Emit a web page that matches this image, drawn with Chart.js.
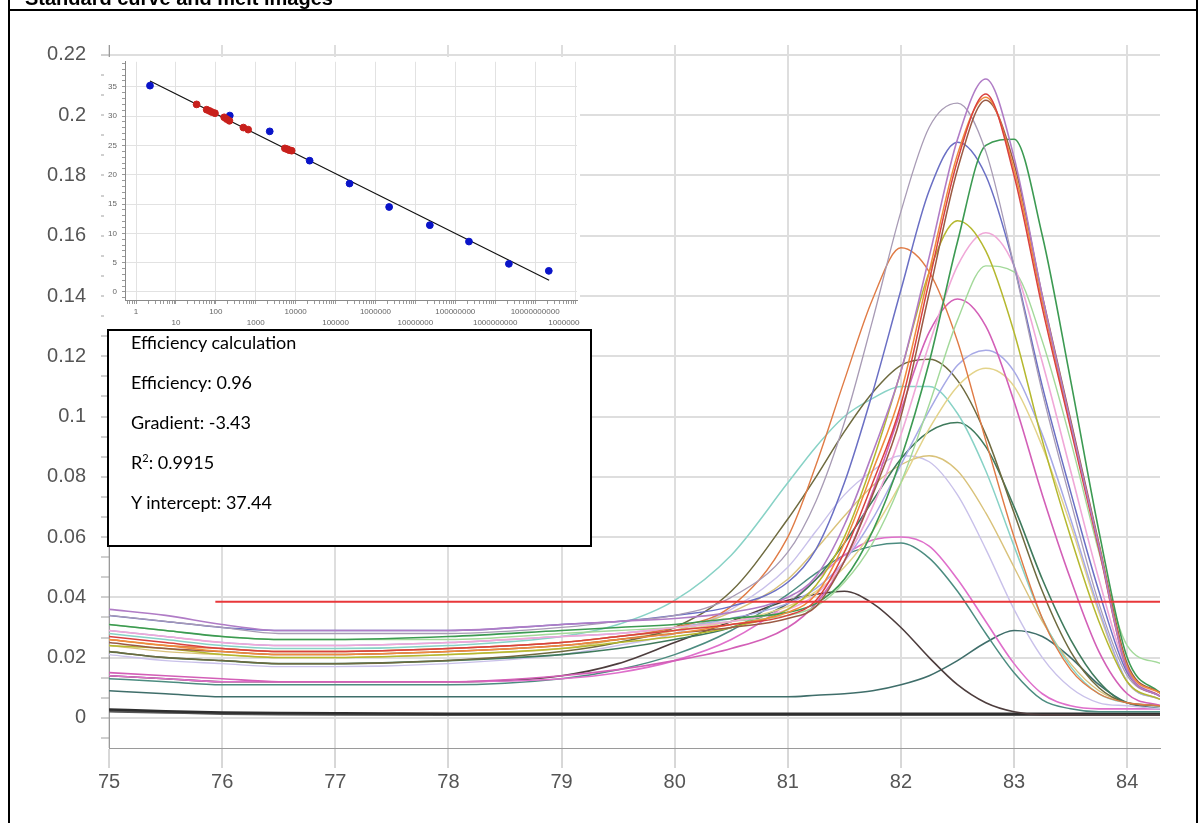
<!DOCTYPE html>
<html>
<head>
<meta charset="utf-8">
<script src="https://cdn.jsdelivr.net/npm/chart.js@4.4.1/dist/chart.umd.min.js"></script>
<style>
  html, body { margin: 0; padding: 0; background: #fff; }
  body { width: 1200px; height: 823px; position: relative; overflow: hidden; font-family: "Liberation Sans", Arial, sans-serif; }
  #meltChart { position: absolute; left: 0; top: 0; }
  #insetWrap { position: absolute; left: 104px; top: 57px; width: 476px; height: 275px; background: #fff; overflow: hidden; }
  #insetWrap canvas { display: block; position: absolute; left: 0; top: -5px; }
  #effBox {
    position: absolute; left: 107px; top: 329px; width: 459px; height: 214px;
    border: 2px solid #000; background: #fff; padding: 0 0 0 22px;
    font: 18px/40px Lato, "Open Sans", sans-serif; color: #000;
  }
  #effBox .lines { position: relative; top: -9px; }
  #effBox sup { font-size: 11px; line-height: 0; vertical-align: 7px; }
  .frame { position: absolute; background: #000; }
  #title { position: absolute; left: 25px; top: -12px; font: bold 20px/20px "Liberation Sans", Arial, sans-serif; color: #000; white-space: nowrap; }
</style>
</head>
<body>
<canvas id="meltChart" width="1200" height="823"></canvas>
<div id="insetWrap"><canvas id="stdCurve" width="506" height="280"></canvas></div>
<div id="effBox">
  <div class="lines">
    <div>Efficiency calculation</div>
    <div>Efficiency: 0.96</div>
    <div>Gradient: -3.43</div>
    <div>R<sup>2</sup>: 0.9915</div>
    <div>Y intercept: 37.44</div>
  </div>
</div>
<div id="title">Standard curve and melt images</div>
<div class="frame" style="left:8px;top:0;width:2px;height:823px"></div>
<div class="frame" style="left:1196px;top:0;width:2px;height:823px"></div>
<div class="frame" style="left:8px;top:9px;width:1190px;height:2px"></div>
<script>
// ---- melt curve data (temperature grid, one array per well) ----
const meltTemps = [75, 75.5, 76, 76.5, 77, 78, 79, 79.5, 80, 80.5, 81, 81.25, 81.5, 81.75, 82, 82.25, 82.5, 82.75, 83, 83.25, 83.5, 83.75, 84, 84.3];

const wellViolet      = [0.036, 0.034, 0.031, 0.029, 0.029, 0.029, 0.031, 0.032, 0.033, 0.035, 0.040, 0.047, 0.064, 0.088, 0.115, 0.153, 0.192, 0.212, 0.186, 0.140, 0.098, 0.057, 0.016, 0.007];
const wellRed         = [0.027, 0.025, 0.023, 0.022, 0.022, 0.023, 0.025, 0.027, 0.029, 0.031, 0.034, 0.039, 0.055, 0.078, 0.104, 0.145, 0.185, 0.207, 0.180, 0.136, 0.096, 0.056, 0.016, 0.007];
const wellOrange      = [0.026, 0.024, 0.022, 0.021, 0.021, 0.022, 0.024, 0.026, 0.028, 0.031, 0.035, 0.041, 0.058, 0.082, 0.108, 0.148, 0.187, 0.206, 0.182, 0.138, 0.097, 0.057, 0.017, 0.008];
const wellBrown       = [0.025, 0.023, 0.022, 0.021, 0.021, 0.022, 0.024, 0.026, 0.028, 0.030, 0.033, 0.037, 0.052, 0.074, 0.100, 0.141, 0.182, 0.205, 0.184, 0.140, 0.099, 0.058, 0.018, 0.008];
const wellLavGray     = [0.034, 0.032, 0.030, 0.028, 0.028, 0.028, 0.030, 0.032, 0.034, 0.040, 0.055, 0.072, 0.098, 0.132, 0.168, 0.196, 0.204, 0.188, 0.150, 0.108, 0.072, 0.038, 0.014, 0.007];
const wellGreen       = [0.031, 0.029, 0.027, 0.026, 0.026, 0.027, 0.029, 0.030, 0.031, 0.033, 0.035, 0.038, 0.046, 0.062, 0.086, 0.118, 0.158, 0.190, 0.192, 0.160, 0.112, 0.062, 0.020, 0.008];
const wellSteel       = [0.034, 0.032, 0.030, 0.029, 0.029, 0.029, 0.031, 0.032, 0.034, 0.037, 0.045, 0.056, 0.078, 0.108, 0.142, 0.175, 0.191, 0.180, 0.150, 0.110, 0.075, 0.042, 0.015, 0.007];
const wellOlive       = [0.024, 0.023, 0.021, 0.020, 0.020, 0.021, 0.023, 0.025, 0.027, 0.030, 0.036, 0.044, 0.060, 0.085, 0.115, 0.148, 0.165, 0.155, 0.128, 0.092, 0.060, 0.032, 0.012, 0.006];
const wellLightPink   = [0.029, 0.027, 0.025, 0.024, 0.024, 0.025, 0.027, 0.028, 0.030, 0.032, 0.036, 0.041, 0.052, 0.070, 0.094, 0.124, 0.150, 0.161, 0.150, 0.118, 0.082, 0.046, 0.016, 0.007];
const wellLightGreen  = [0.031, 0.029, 0.027, 0.026, 0.026, 0.026, 0.028, 0.029, 0.030, 0.032, 0.034, 0.037, 0.045, 0.058, 0.078, 0.104, 0.132, 0.150, 0.148, 0.125, 0.092, 0.055, 0.024, 0.018];
const wellOrangeLeft  = [0.026, 0.024, 0.023, 0.022, 0.022, 0.023, 0.025, 0.027, 0.030, 0.037, 0.060, 0.084, 0.112, 0.139, 0.156, 0.148, 0.125, 0.092, 0.060, 0.033, 0.016, 0.008, 0.005, 0.004];
const wellMagenta     = [0.015, 0.014, 0.013, 0.012, 0.012, 0.012, 0.014, 0.016, 0.019, 0.023, 0.030, 0.038, 0.052, 0.075, 0.102, 0.128, 0.139, 0.130, 0.105, 0.074, 0.046, 0.022, 0.008, 0.004];
const wellLavBlue     = [0.029, 0.027, 0.025, 0.024, 0.024, 0.025, 0.027, 0.028, 0.030, 0.033, 0.038, 0.043, 0.052, 0.066, 0.084, 0.102, 0.117, 0.122, 0.115, 0.094, 0.066, 0.036, 0.012, 0.006];
const wellTan         = [0.026, 0.024, 0.023, 0.022, 0.022, 0.023, 0.025, 0.027, 0.029, 0.032, 0.037, 0.042, 0.050, 0.062, 0.078, 0.096, 0.110, 0.116, 0.110, 0.090, 0.064, 0.035, 0.012, 0.006];
const wellDarkOlive   = [0.022, 0.020, 0.019, 0.018, 0.018, 0.019, 0.022, 0.025, 0.030, 0.042, 0.066, 0.080, 0.095, 0.108, 0.117, 0.119, 0.112, 0.094, 0.068, 0.042, 0.022, 0.010, 0.005, 0.004];
const wellLightTeal   = [0.028, 0.026, 0.024, 0.023, 0.023, 0.024, 0.027, 0.031, 0.039, 0.054, 0.078, 0.090, 0.100, 0.106, 0.110, 0.110, 0.101, 0.082, 0.057, 0.033, 0.017, 0.008, 0.005, 0.004];
const wellDarkGreen   = [0.022, 0.020, 0.019, 0.018, 0.018, 0.019, 0.021, 0.023, 0.026, 0.030, 0.038, 0.046, 0.058, 0.072, 0.086, 0.095, 0.098, 0.090, 0.070, 0.046, 0.026, 0.012, 0.005, 0.004];
const wellKhaki       = [0.024, 0.022, 0.021, 0.020, 0.020, 0.021, 0.023, 0.026, 0.029, 0.035, 0.046, 0.056, 0.067, 0.077, 0.084, 0.087, 0.082, 0.068, 0.050, 0.032, 0.018, 0.009, 0.005, 0.004];
const wellLightLav    = [0.021, 0.019, 0.018, 0.017, 0.017, 0.018, 0.021, 0.024, 0.028, 0.036, 0.050, 0.062, 0.074, 0.082, 0.087, 0.085, 0.074, 0.056, 0.036, 0.020, 0.010, 0.005, 0.004, 0.003];
const wellPink        = [0.014, 0.013, 0.012, 0.012, 0.012, 0.012, 0.013, 0.015, 0.019, 0.026, 0.038, 0.046, 0.054, 0.059, 0.060, 0.057, 0.046, 0.032, 0.018, 0.008, 0.004, 0.003, 0.003, 0.003];
const wellDarkTeal    = [0.013, 0.012, 0.011, 0.011, 0.011, 0.011, 0.013, 0.016, 0.021, 0.029, 0.041, 0.048, 0.054, 0.057, 0.058, 0.053, 0.042, 0.028, 0.015, 0.006, 0.003, 0.002, 0.002, 0.002];
const wellDarkBrown   = [0.014, 0.013, 0.012, 0.012, 0.012, 0.012, 0.014, 0.018, 0.025, 0.032, 0.039, 0.041, 0.042, 0.038, 0.030, 0.020, 0.011, 0.005, 0.002, 0.001, 0.001, 0.001, 0.001, 0.001];
const wellLateTeal    = [0.009, 0.008, 0.007, 0.007, 0.007, 0.007, 0.007, 0.007, 0.007, 0.007, 0.007, 0.0075, 0.008, 0.009, 0.011, 0.014, 0.019, 0.025, 0.029, 0.027, 0.020, 0.011, 0.005, 0.003];
const wellBlank1      = [0.0028, 0.0022, 0.0018, 0.0016, 0.0015, 0.0014, 0.0014, 0.0014, 0.0014, 0.0014, 0.0014, 0.0014, 0.0014, 0.0014, 0.0014, 0.0014, 0.0014, 0.0014, 0.0014, 0.0014, 0.0014, 0.0014, 0.0014, 0.0014];
const wellBlank2      = [0.0022, 0.0018, 0.0014, 0.0012, 0.0011, 0.0010, 0.0010, 0.0010, 0.0010, 0.0010, 0.0010, 0.0010, 0.0010, 0.0010, 0.0010, 0.0010, 0.0010, 0.0010, 0.0010, 0.0010, 0.0010, 0.0010, 0.0010, 0.0010];

// threshold line
const thresholdX = [75.94, 84.29];
const thresholdY = [0.0385, 0.0385];

// ---- standard curve data (copies vs Ct) ----
const stdBlueX = [2.24, 224, 2240, 22400, 224000, 2.2e6, 2.3e7, 2.2e8, 2.2e9, 2.2e10];
const stdBlueY = [35.2, 30.1, 27.4, 22.4, 18.5, 14.5, 11.4, 8.6, 4.8, 3.6];
const stdRedX = [33, 59, 69, 79, 95, 162, 186, 219, 490, 646, 5370, 6170, 6920, 7940];
const stdRedY = [32.0, 31.1, 30.9, 30.7, 30.5, 29.8, 29.5, 29.2, 28.05, 27.7, 24.5, 24.35, 24.2, 24.1];
const fitX = [2.24, 2.24e10];
const fitY = [36.0, 2.0];
const insetXTickLabels = ['1', '10', '100', '1000', '10000', '100000', '1000000', '10000000', '100000000', '1000000000', '10000000000', '100000000000'];

// line styles for each well (drawn in this order)
const wellStyles = [
    [wellBlank2, '#555555', 2.5],
    [wellBlank1, '#2e2e2e', 2.5],
    [wellLateTeal, '#3f6e6a', 1.6],
    [wellDarkBrown, '#4d3d3d', 1.6],
    [wellDarkTeal, '#4c8c80', 1.5],
    [wellPink, '#df6fcb', 1.6],
    [wellLightLav, '#c9c1ea', 1.4],
    [wellKhaki, '#d9c27a', 1.4],
    [wellDarkGreen, '#3f7a5c', 1.6],
    [wellLightTeal, '#88d2c6', 1.5],
    [wellDarkOlive, '#6e6a3f', 1.5],
    [wellTan, '#e3d38a', 1.5],
    [wellLavBlue, '#a7a9e6', 1.5],
    [wellMagenta, '#d35fb7', 1.6],
    [wellOrangeLeft, '#e07b45', 1.4],
    [wellLightGreen, '#a3d99a', 1.4],
    [wellLightPink, '#f0a8d8', 1.6],
    [wellOlive, '#b5b82e', 1.5],
    [wellSteel, '#6a6fc4', 1.5],
    [wellGreen, '#3c9a52', 1.6],
    [wellLavGray, '#a89bb5', 1.3],
    [wellBrown, '#9a5a44', 1.5],
    [wellOrange, '#f08a3c', 1.5],
    [wellRed, '#d9413f', 1.5],
    [wellViolet, '#b07cc6', 1.6]
];

const AXIS_FONT = '"Liberation Sans", Arial, sans-serif';

function isMultiple(v, step) {
    const r = v / step;
    return Math.abs(r - Math.round(r)) < 1e-6;
}

/**
 * Melt curve chart (derivative fluorescence vs temperature)
 * @param {string} canvasId
 */
function createMeltChart(canvasId) {
    const ctx = document.getElementById(canvasId).getContext('2d');

    const datasets = [{
        data: thresholdX.map((x, i) => ({ x: x, y: thresholdY[i] })),
        borderColor: '#e8373a',
        borderWidth: 2,
        tension: 0
    }];
    // later datasets are drawn underneath, so add wells top-first
    wellStyles.slice().reverse().forEach(([values, color, width]) => {
        datasets.push({
            data: meltTemps.map((t, i) => ({ x: t, y: values[i] })),
            borderColor: color,
            borderWidth: width,
            cubicInterpolationMode: 'monotone'
        });
    });

    const chart = new Chart(ctx, {
        type: 'line',
        data: { datasets: datasets },
        options: {
            responsive: false,
            animation: false,
            layout: { padding: { left: 0, top: 45, right: 40, bottom: 0 } },
            elements: { point: { radius: 0 } },
            plugins: { legend: { display: false }, tooltip: { enabled: false } },
            scales: {
                x: {
                    type: 'linear',
                    min: 75,
                    max: 84.29,
                    afterFit: scale => { scale.height = 75; },
                    border: { color: '#9a9a9a' },
                    grid: { color: '#dedede', lineWidth: 2, tickLength: 20, tickColor: '#b0b0b0', tickWidth: 1 },
                    ticks: {
                        stepSize: 1,
                        includeBounds: false,
                        maxRotation: 0,
                        padding: 2,
                        color: '#555',
                        font: { family: AXIS_FONT, size: 20 }
                    }
                },
                y: {
                    min: -0.01,
                    max: 0.2233,
                    afterFit: scale => { scale.width = 109; },
                    border: { color: '#9a9a9a' },
                    grid: {
                        color: c => (c.tick && c.tick.value > -0.001 && isMultiple(c.tick.value, 0.02)) ? '#dedede' : 'rgba(0,0,0,0)',
                        lineWidth: 2,
                        tickLength: 8,
                        tickColor: '#a0a0a0',
                        tickWidth: 1
                    },
                    ticks: {
                        stepSize: 0.02 / 3,
                        includeBounds: false,
                        autoSkip: false,
                        padding: 15,
                        color: '#555',
                        font: { family: AXIS_FONT, size: 20 },
                        callback: function(value) {
                            if (value < -0.001 || !isMultiple(value, 0.02)) return '';
                            return String(Number(value.toFixed(2)));
                        }
                    }
                }
            }
        }
    });

    return chart;
}

/**
 * Standard curve inset (log copies vs Ct)
 * @param {string} canvasId
 */
function createStandardCurveChart(canvasId) {
    const ctx = document.getElementById(canvasId).getContext('2d');

    const chart = new Chart(ctx, {
        type: 'scatter',
        data: {
            datasets: [
                {
                    data: stdRedX.map((x, i) => ({ x: x, y: stdRedY[i] })),
                    backgroundColor: '#c8201c',
                    borderColor: '#c8201c',
                    pointRadius: 3.4,
                    order: 0
                },
                {
                    data: stdBlueX.map((x, i) => ({ x: x, y: stdBlueY[i] })),
                    backgroundColor: '#0a14c8',
                    borderColor: '#0a14c8',
                    pointRadius: 3.4,
                    order: 1
                },
                {
                    type: 'line',
                    data: fitX.map((x, i) => ({ x: x, y: fitY[i] })),
                    borderColor: '#111',
                    borderWidth: 1.2,
                    pointRadius: 0,
                    order: 2
                }
            ]
        },
        options: {
            responsive: false,
            animation: false,
            layout: { padding: { left: 0, top: 1, right: 33, bottom: 0 } },
            plugins: { legend: { display: false }, tooltip: { enabled: false } },
            scales: {
                x: {
                    type: 'logarithmic',
                    min: 0.53,
                    max: 1.12e11,
                    afterFit: scale => { scale.height = 32; },
                    afterBuildTicks: scale => {
                        const ticks = [];
                        for (let e = -1; e <= 11; e++) {
                            for (let m = 1; m <= 9; m++) {
                                const v = m * Math.pow(10, e);
                                if (v >= 0.53 && v <= 1.12e11) ticks.push({ value: v, major: m === 1 });
                            }
                        }
                        scale.ticks = ticks;
                    },
                    border: { color: '#8a8a8a' },
                    grid: {
                        color: c => (c.tick && c.tick.major) ? '#e2e2e2' : 'rgba(0,0,0,0)',
                        tickLength: 4,
                        tickColor: '#999'
                    },
                    ticks: {
                        autoSkip: false,
                        maxRotation: 0,
                        padding: 3,
                        color: '#666',
                        font: { family: AXIS_FONT, size: 8, lineHeight: 1.3 },
                        callback: function(value) {
                            const e = Math.round(Math.log10(value));
                            if (e < 0 || Math.abs(value / Math.pow(10, e) - 1) > 1e-6) return '';
                            const label = insetXTickLabels[e];
                            return e % 2 === 0 ? [label, ''] : ['', label];
                        }
                    }
                },
                y: {
                    min: -1.37,
                    max: 39.27,
                    afterFit: scale => { scale.width = 21; },
                    border: { color: '#8a8a8a' },
                    grid: {
                        color: c => (c.tick && c.tick.value >= 0 && c.tick.value % 5 === 0) ? '#e2e2e2' : 'rgba(0,0,0,0)',
                        tickLength: 3,
                        tickColor: '#999'
                    },
                    ticks: {
                        stepSize: 1,
                        includeBounds: false,
                        autoSkip: false,
                        padding: 5,
                        color: '#666',
                        font: { family: AXIS_FONT, size: 8 },
                        callback: function(value) {
                            return (value >= 0 && value % 5 === 0) ? String(value) : '';
                        }
                    }
                }
            }
        }
    });

    return chart;
}

createMeltChart('meltChart');
createStandardCurveChart('stdCurve');
</script>
</body>
</html>
